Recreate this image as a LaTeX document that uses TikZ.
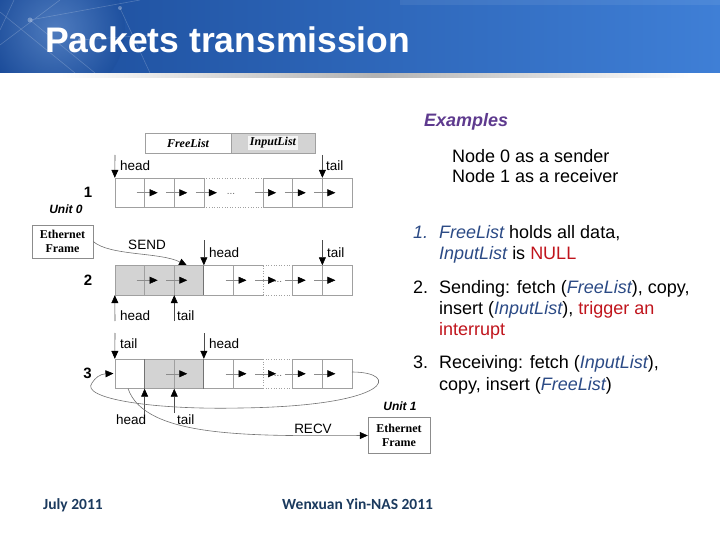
\documentclass[tikz,border=0pt]{standalone}
\usepackage{fontspec}
\setmainfont{Liberation Sans}
\newfontfamily\tnr{Liberation Serif}
\newfontfamily\calib{Carlito}
\usetikzlibrary{arrows.meta,calc}
\definecolor{hdrdark}{HTML}{1B4C9A}
\definecolor{hdrlight}{HTML}{3F7FD6}
\definecolor{exam}{HTML}{5E3A8E}
\definecolor{lblue}{HTML}{2B4A85}
\definecolor{lred}{HTML}{C0141C}
\definecolor{foot}{HTML}{1B3A5E}
\definecolor{cellline}{HTML}{A0A0A0}
\definecolor{greyfill}{HTML}{D3D3D3}
\begin{document}
\begin{tikzpicture}[x=1pt,y=-1pt,
  cell/.style={draw=cellline, line width=0.6pt},
  darkdiv/.style={draw=black!55, line width=0.8pt},
  nxt/.style={draw=black!45, line width=0.5pt, -{Triangle[length=8pt,width=7pt,color=black]}},
  ptr/.style={draw=black!70, line width=0.6pt, -{Triangle[length=8pt,width=7pt,color=black]}},
  curv/.style={draw=black!55, line width=0.6pt},
  lbl/.style={font=\fontsize{13.5}{15}\selectfont, inner sep=0pt, anchor=west},
  num/.style={font=\bfseries\fontsize{15}{17}\selectfont, inner sep=0pt},
  unitlbl/.style={font=\bfseries\itshape\fontsize{12}{14}\selectfont, inner sep=0pt},
  eframe/.style={draw=black!45, fill=white, font=\tnr\bfseries\fontsize{12}{14}\selectfont, align=center, minimum width=61pt, minimum height=33pt, inner sep=0pt},
  body/.style={font=\fontsize{18}{21}\selectfont, anchor=base west, inner sep=0pt},
  dots/.style={font=\fontsize{10}{12}\selectfont, text=black!60, inner sep=0pt},
  rowbox/.style={minimum width=237pt, minimum height=29.5pt, inner sep=0pt, draw=none}
]
\useasboundingbox (0,0) rectangle (720,540);
% ---------------- header
\shade[left color=hdrdark, right color=hdrlight] (0,0) rectangle (720,73);
\begin{scope}
\clip (0,0) rectangle (720,73);
\shade[inner color=hdrlight!60!white, outer color=hdrdark, opacity=0.45] (55,30) circle (70);
\fill[white, opacity=0.07] (400,0) rectangle (720,5);
\draw[white, opacity=0.2, line width=0.6pt] (0,12) -- (75,73) (14,0) -- (0,30) (0,45) -- (60,0) (30,20) -- (140,0) (30,20) -- (95,73) (120,8) -- (150,73) (80,40) -- (150,35);
\fill[white, opacity=0.3] (30,20) circle (2.5) (80,40) circle (2) (120,8) circle (2);
\end{scope}
\shade[left color=white, right color=white, middle color=black!30] (60,74) rectangle (690,78);
\node[anchor=base west, text=white, font=\bfseries\fontsize{35.5}{40}\selectfont, inner sep=0pt] (title) at (45,53) {Packets transmission};
% ---------------- FreeList / InputList legend
\node[draw=cellline, fill=white, minimum width=86pt, minimum height=20pt, inner sep=0pt, font=\tnr\bfseries\itshape\fontsize{12}{14}\selectfont] (fl) at (188,143) {FreeList};
\node[draw=cellline, fill=greyfill, minimum width=84pt, minimum height=20pt, inner sep=0pt] (il) at (273,143) {};
\node[fill=white!75!greyfill, inner sep=1.5pt, font=\tnr\bfseries\itshape\fontsize{12}{14}\selectfont] (iltext) at (il) {InputList};
% ---------------- row 1
\node[rowbox] (row1) at (233.5,192.75) {};
\draw[cell] (203.875,178) -- (115,178) -- (115,207.5) -- (203.875,207.5);
\draw[cell] (263.125,178) -- (352,178) -- (352,207.5) -- (263.125,207.5);
\draw[cell, dotted] (203.875,178) -- (263.125,178) (203.875,207.5) -- (263.125,207.5);
\foreach \k in {1,2,3,5,6,7} \draw[cell] (115+\k*29.625,178) -- ++(0,29.5);
\foreach \k in {1,2,3,5,6,7} \draw[nxt] (115+\k*29.625-8,192.75) -- ++(21,0);
\node[dots] (d1) at (231,194) {...};
\node[num] (n1) at (88,192.5) {1};
\node[unitlbl] (u0) at (66,209) {Unit 0};
\coordinate (h1s) at (115,155);
\coordinate (t1s) at (322.375,155);
\draw[ptr] (h1s) -- (row1.north west);
\draw[ptr] (t1s) -- (t1s |- row1.north);
\node[lbl] (h1l) at (120,166) {head};
\node[lbl] (t1l) at (326,166) {tail};
% ---------------- Ethernet frame unit 0 and SEND
\node[eframe] (ef0) at (62.5,241.5) {Ethernet\\Frame};
\coordinate (sendend) at (187,265.5);
\draw[curv, -{Triangle[length=8pt,width=7pt,color=black]}] (ef0.east) .. controls (110,256) and (160,252) .. (sendend);
\node[lbl, anchor=center] (send) at (147,245) {SEND};
% ---------------- row 2
\node[rowbox] (row2) at (233.5,280.25) {};
\fill[greyfill] (115,265.5) rectangle (203.875,295);
\draw[cell] (263.125,265.5) -- (115,265.5) -- (115,295) -- (263.125,295);
\draw[cell] (292.75,265.5) -- (352,265.5) -- (352,295) -- (292.75,295);
\draw[cell, dotted] (263.125,265.5) -- (292.75,265.5) (263.125,295) -- (292.75,295) (263.125,265.5) -- (263.125,295);
\foreach \k in {1,2,4,6,7} \draw[cell] (115+\k*29.625,265.5) -- ++(0,29.5);
\draw[darkdiv] (203.875,265.5) -- ++(0,29.5);
\foreach \k in {1,2,4,5,6,7} \draw[nxt] (115+\k*29.625-8,280.25) -- ++(21,0);
\node[dots] (d2) at (278,282) {...};
\node[num] (n2) at (88,280) {2};
\coordinate (h2s) at (203.875,240);
\coordinate (t2s) at (322.375,240);
\draw[ptr] (h2s) -- (h2s |- row2.north);
\draw[ptr] (t2s) -- (t2s |- row2.north);
\node[lbl] (h2l) at (209,253) {head};
\node[lbl] (t2l) at (327,253) {tail};
\coordinate (h2b) at (115,321);
\coordinate (t2b) at (174.25,321);
\draw[ptr] (h2b) -- (row2.south west);
\draw[ptr] (t2b) -- (t2b |- row2.south);
\node[lbl] (h2bl) at (120,316) {head};
\node[lbl] (t2bl) at (177,316) {tail};
% ---------------- row 3
\node[rowbox] (row3) at (233.5,373.75) {};
\fill[greyfill] (144.625,359) rectangle (203.875,388.5);
\draw[cell] (263.125,359) -- (115,359) -- (115,388.5) -- (263.125,388.5);
\draw[cell] (292.75,359) -- (352,359) -- (352,388.5) -- (292.75,388.5);
\draw[cell, dotted] (263.125,359) -- (292.75,359) (263.125,388.5) -- (292.75,388.5) (263.125,359) -- (263.125,388.5);
\foreach \k in {2,4,6,7} \draw[cell] (115+\k*29.625,359) -- ++(0,29.5);
\draw[darkdiv] (144.625,359) -- ++(0,29.5) (203.875,359) -- ++(0,29.5);
\foreach \k in {2,4,5,6,7} \draw[nxt] (115+\k*29.625-8,373.75) -- ++(21,0);
\node[dots] (d3) at (278,375.5) {...};
\node[num] (n3) at (87.5,373) {3};
\coordinate (t3s) at (115,333);
\coordinate (h3s) at (203.875,333);
\draw[ptr] (t3s) -- (row3.north west);
\draw[ptr] (h3s) -- (h3s |- row3.north);
\node[lbl] (t3l) at (120,344) {tail};
\node[lbl] (h3l) at (209,344) {head};
\coordinate (h3b) at (144.625,414);
\coordinate (t3b) at (174.25,413);
\draw[ptr] (h3b) -- (h3b |- row3.south);
\draw[ptr] (t3b) -- (t3b |- row3.south);
\node[lbl] (h3bl) at (116,420) {head};
\node[lbl] (t3bl) at (177,420) {tail};
% loop back
\coordinate (loopstart) at (352,372);
\coordinate (loopend) at (113.5,373.5);
\draw[curv, -{Triangle[length=8pt,width=7pt,color=black]}] (loopstart) .. controls (400,372) and (395,406) .. (240,408) .. controls (150,410) and (80,398) .. (92,383) .. controls (95,378) and (100,374) .. (loopend);
% ---------------- unit 1 and RECV
\node[eframe, minimum width=62pt, minimum height=36pt] (ef1) at (399,435.5) {Ethernet\\Frame};
\node[unitlbl] (u1) at (400,406) {Unit 1};
\coordinate (recvstart) at (128,388.5);
\draw[curv, -{Triangle[length=8pt,width=7pt,color=black]}] (recvstart) .. controls (145,438) and (250,436) .. (ef1.west);
\node[lbl, anchor=center] (recv) at (313,429) {RECV};
% ---------------- right text
\node[anchor=base west, inner sep=0pt, text=exam, font=\bfseries\itshape\fontsize{18}{21}\selectfont] (ex) at (424,127) {Examples};
\node[body] (s1) at (452,162.5) {Node 0 as a sender};
\node[body] (s2) at (452,182.5) {Node 1 as a receiver};
\node[body, text=lblue, font=\itshape\fontsize{18}{21}\selectfont] (i1) at (413,238) {1.};
\node[body] (i1a) at (439,238) {\textcolor{lblue}{\itshape FreeList} holds all data,};
\node[body] (i1b) at (439,259) {\textcolor{lblue}{\itshape InputList} is \textcolor{lred}{NULL}};
\node[body] (i2) at (413,293) {2.};
\node[body] (i2a) at (439,293) {Sending: fetch (\textcolor{lblue}{\itshape FreeList}), copy,};
\node[body] (i2b) at (439,314) {insert (\textcolor{lblue}{\itshape InputList}), \textcolor{lred}{trigger an}};
\node[body] (i2c) at (439,335) {\textcolor{lred}{interrupt}};
\node[body] (i3) at (413,368) {3.};
\node[body] (i3a) at (439,368) {Receiving: fetch (\textcolor{lblue}{\itshape InputList}),};
\node[body] (i3b) at (439,390) {copy, insert (\textcolor{lblue}{\itshape FreeList})};
% ---------------- footer
\node[anchor=base west, inner sep=0pt, text=foot, font=\calib\bfseries\fontsize{15.5}{18}\selectfont] (f1) at (43,509) {July 2011};
\node[anchor=base west, inner sep=0pt, text=foot, font=\calib\bfseries\fontsize{15.5}{18}\selectfont] (f2) at (282,509) {Wenxuan Yin-NAS 2011};
\end{tikzpicture}
\end{document}
